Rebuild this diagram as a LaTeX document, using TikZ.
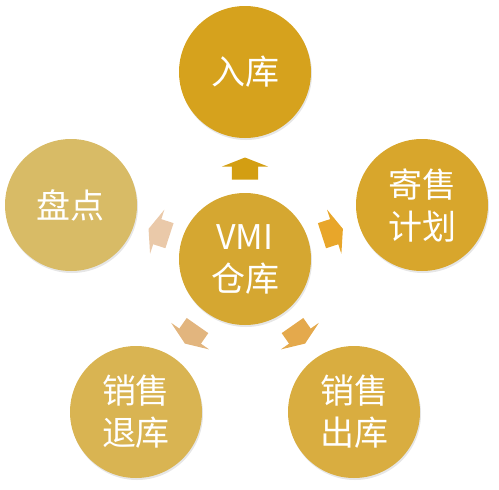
\documentclass[tikz,border=0pt]{standalone}
\usepackage{fontspec}
\setmainfont{Noto Sans CJK SC}
\usepackage{xcolor}
\usepackage{tikz}
\usetikzlibrary{shapes.arrows}
\usetikzlibrary{calc}
\usetikzlibrary{shadows}
\definecolor{inC}{HTML}{D6A21D}
\definecolor{vmiC}{HTML}{D5A731}
\definecolor{planC}{HTML}{D8A62C}
\definecolor{countC}{HTML}{D8BB66}
\definecolor{backC}{HTML}{D9B452}
\definecolor{outC}{HTML}{D9AD40}
\definecolor{inA}{HTML}{D39E12}
\definecolor{planA}{HTML}{E8A62A}
\definecolor{countA}{HTML}{EAC9A9}
\definecolor{backA}{HTML}{E2B57E}
\definecolor{outA}{HTML}{E4A94C}
\tikzset{
  ball/.style={circle, minimum size=132pt, inner sep=0pt, text=white, align=center,
    font=\fontsize{34}{42}\selectfont,
    drop shadow={opacity=0.2, shadow xshift=1pt, shadow yshift=-2pt}},
  flow/.style={single arrow, inner xsep=0pt, inner ysep=13pt, text height=0pt, text depth=0pt,
    minimum height=22pt, single arrow head extend=10pt, single arrow tip angle=137,
    single arrow head indent=0pt}
}

\begin{document}
\begin{tikzpicture}[x=1pt, y=-1pt]
  \useasboundingbox (0, 0) rectangle (499, 490);

  \node[ball, fill=vmiC] (vmi) at (245, 259) {VMI\\仓库};
  \node[ball, fill=inC] (in) at (245, 72) {入库};
  \node[ball, fill=planC] (plan) at (422, 205) {寄售\\计划};
  \node[ball, fill=countC] (count) at (71, 205) {盘点};
  \node[ball, fill=backC] (back) at (136, 412) {销售\\退库};
  \node[ball, fill=outC] (out) at (354, 412) {销售\\出库};

  \node[flow, fill=inA, rotate=90] (toin) at ($(vmi)!0.47!(in)$) {};
  \node[flow, fill=planA, rotate=18] (toplan) at ($(vmi)!0.48!(plan)$) {};
  \node[flow, fill=countA, rotate=162] (tocount) at ($(vmi)!0.48!(count)$) {};
  \node[flow, fill=backA, rotate=235] (toback) at ($(vmi)!0.48!(back)$) {};
  \node[flow, fill=outA, rotate=305] (toout) at ($(vmi)!0.48!(out)$) {};
\end{tikzpicture}
\end{document}
